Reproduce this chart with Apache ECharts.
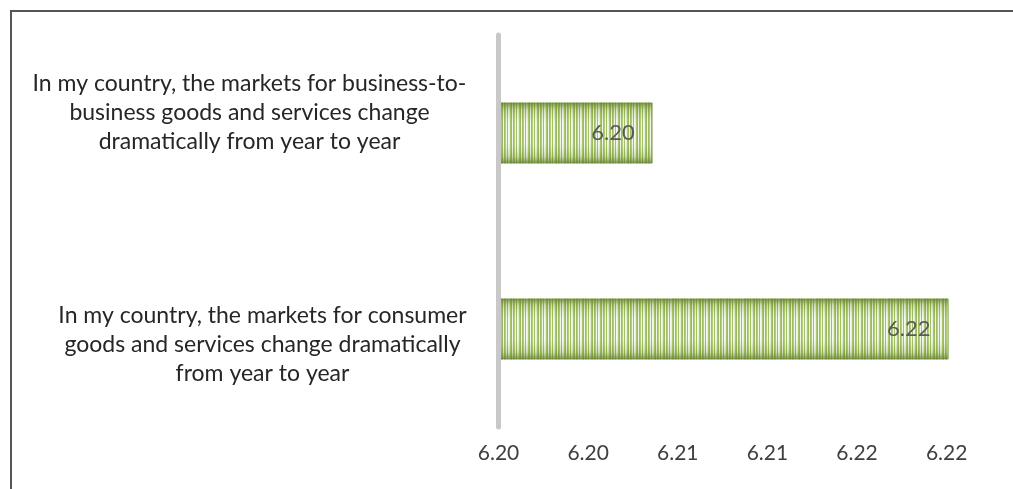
<!DOCTYPE html>
<html><head><meta charset="utf-8">
<script src="https://cdn.jsdelivr.net/npm/echarts@6/dist/echarts.min.js"></script>
<style>
html,body{margin:0;padding:0;background:#fff;}
#wrap{position:relative;width:1013px;height:489px;overflow:hidden;}
#chart{width:1013px;height:489px;}
#frame{position:absolute;left:10px;top:10px;width:1100px;height:600px;border-left:2px solid #555;border-top:2px solid #555;pointer-events:none;}
</style></head><body>
<div id="wrap"><div id="chart"></div><div id="frame"></div></div>
<script>
const categories = [
  "In my country, the markets for business-to-\nbusiness goods and services change\ndramatically from year to year",
  "In my country, the markets for consumer\ngoods and services change dramatically\nfrom year to year"
];
const values = [6.2042, 6.2207];
const axisMin = 6.1956;
const axisMax = 6.2226;
const tickValues = [6.1956, 6.2006, 6.2056, 6.2106, 6.2156, 6.2206];

const FONT = 'Lato, "Open Sans", sans-serif';

function stripePattern() {
  const c = document.createElement('canvas');
  const cols = ['#8fb24a', '#a6c762', '#eef4e2', '#93b64e', '#f4f8ec', '#e6eed5', '#9cbe57', '#8aac47', '#f2f6e8'];
  c.width = cols.length; c.height = 4;
  const ctx = c.getContext('2d');
  cols.forEach((col, i) => { ctx.fillStyle = col; ctx.fillRect(i, 0, 1, 4); });
  return c;
}

const labelBase = {align: 'center', fontFamily: FONT, fontSize: 23, lineHeight: 29, color: '#262626'};
const richGaps = {
  gapBottom: {fontSize: 4, lineHeight: 40, height: 40},
  gapTop: {fontSize: 4, lineHeight: 32, height: 32}
};

const chart = echarts.init(document.getElementById('chart'), null, {renderer: 'canvas'});
chart.setOption({
  animation: false,
  backgroundColor: '#ffffff',
  grid: {left: 498.5, top: 35, width: 484, height: 392, containLabel: false, outerBoundsMode: 'none'},
  xAxis: {
    type: 'value', min: axisMin, max: axisMax,
    axisLine: {show: false}, axisTick: {show: false}, splitLine: {show: false},
    axisLabel: {
      customValues: tickValues,
      formatter: v => v.toFixed(2),
      fontFamily: FONT, fontSize: 21, color: '#404040', margin: 16
    }
  },
  yAxis: {
    type: 'category', inverse: true, z: 3,
    data: [
      {value: categories[0], textStyle: Object.assign({}, labelBase, {padding: [0, 26, 0, 0]})},
      {value: categories[1], textStyle: Object.assign({}, labelBase)}
    ],
    axisLine: {show: true, lineStyle: {color: '#c8c8c8', width: 5}},
    axisTick: {show: false},
    axisLabel: Object.assign({
      margin: 236,
      rich: richGaps,
      formatter: (v, i) => i === 0 ? v + '\n{gapBottom| }' : '{gapTop| }\n' + v
    }, labelBase)
  },
  series: [
    {
      type: 'bar', data: values, barWidth: 61,
      itemStyle: {color: {image: stripePattern(), repeat: 'repeat'}},
      silent: true
    },
    {
      type: 'bar', data: values, barWidth: 61, barGap: '-100%',
      itemStyle: {
        color: new echarts.graphic.LinearGradient(0, 0, 0, 1, [
          {offset: 0, color: 'rgba(100,125,50,0.85)'},
          {offset: 0.12, color: 'rgba(130,160,70,0.3)'},
          {offset: 0.35, color: 'rgba(255,255,255,0.15)'},
          {offset: 0.65, color: 'rgba(255,255,255,0.15)'},
          {offset: 0.88, color: 'rgba(130,160,70,0.3)'},
          {offset: 1, color: 'rgba(100,125,50,0.85)'}
        ]),
        borderColor: 'rgba(115,145,60,0.7)', borderWidth: 1
      },
      label: {
        show: true, position: 'insideRight', distance: 18,
        formatter: p => p.value.toFixed(2),
        fontFamily: FONT, fontSize: 22, color: '#595959'
      }
    }
  ]
});
</script>
</body></html>
